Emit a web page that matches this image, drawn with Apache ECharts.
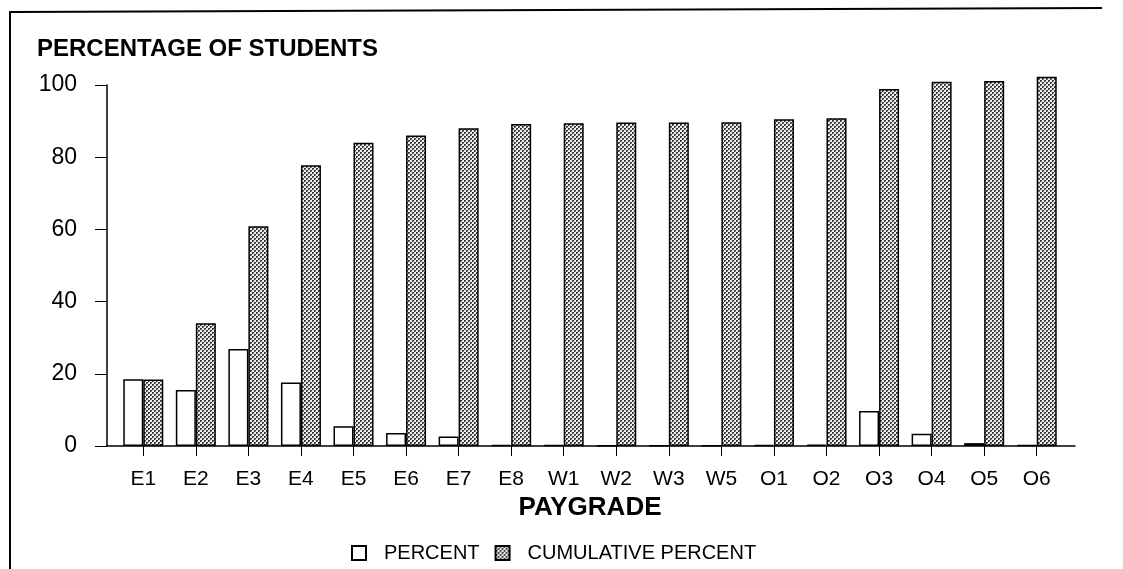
<!DOCTYPE html>
<html>
<head>
<meta charset="utf-8">
<script src="https://cdn.jsdelivr.net/npm/echarts@6/dist/echarts.min.js"></script>
<style>
  html, body { margin: 0; padding: 0; background: #fff; }
  #chart { width: 1123px; height: 569px; }
</style>
</head>
<body>
<div id="chart"></div>
<script>
// paygrade categories and the two series
var paygrades = ['E1', 'E2', 'E3', 'E4', 'E5', 'E6', 'E7', 'E8', 'W1', 'W2', 'W3', 'W5', 'O1', 'O2', 'O3', 'O4', 'O5', 'O6'];
var percent = [18.5, 15.5, 26.9, 17.6, 5.5, 3.6, 2.6, 0.3, 0.3, 0.2, 0.2, 0.2, 0.3, 0.4, 9.7, 3.4, 0.8, 0.3];
var cumulative = [18.4, 34.0, 60.9, 77.8, 84.0, 86.0, 88.0, 89.2, 89.4, 89.6, 89.6, 89.7, 90.5, 90.8, 98.9, 100.9, 101.1, 102.3];
var yTicks = [0, 20, 40, 60, 80, 100];

var FONT = 'Liberation Sans, Arial, sans-serif';

// dotted halftone fill like the scanned print
function makePattern() {
    var c = document.createElement('canvas');
    c.width = 4; c.height = 4;
    var ctx = c.getContext('2d');
    ctx.fillStyle = '#eeeeee';
    ctx.fillRect(0, 0, 4, 4);
    ctx.fillStyle = '#383838';
    ctx.fillRect(0, 0, 2, 1);
    ctx.fillRect(0, 1, 1, 1);
    ctx.fillRect(2, 2, 2, 1);
    ctx.fillRect(2, 3, 1, 1);
    ctx.fillStyle = '#949494';
    ctx.fillRect(1, 1, 1, 1);
    ctx.fillRect(3, 3, 1, 1);
    return c;
}

var myChart = echarts.init(document.getElementById('chart'), null, {renderer: 'canvas'});

var option = {
    backgroundColor: '#fff',
    animation: false,
    title: {
        text: 'PERCENTAGE OF STUDENTS',
        left: 32,
        top: 32,
        textStyle: {fontFamily: FONT, fontSize: 24, fontWeight: 'bold', color: '#000'}
    },
    legend: {
        left: 346,
        top: 538,
        icon: 'rect',
        itemWidth: 14,
        itemHeight: 14,
        itemGap: 15,
        data: ['PERCENT', 'CUMULATIVE PERCENT'],
        textStyle: {fontFamily: FONT, fontSize: 20, color: '#000', padding: [0, 0, 0, 13]}
    },
    grid: [
        {left: 117, right: 60, top: 85, bottom: 123},
        {left: 107, right: 48, top: 85, bottom: 123}
    ],
    xAxis: [
        {
            type: 'category',
            gridIndex: 0,
            data: paygrades,
            axisLine: {show: false},
            axisTick: {show: true, alignWithLabel: true, length: 10, lineStyle: {color: '#000', width: 1}},
            axisLabel: {margin: 23, fontFamily: FONT, fontSize: 21, color: '#000'},
            name: 'PAYGRADE',
            nameLocation: 'middle',
            nameGap: 46,
            nameTextStyle: {fontFamily: FONT, fontSize: 26, fontWeight: 'bold', color: '#000'}
        },
        {
            type: 'category',
            gridIndex: 1,
            data: paygrades,
            axisLine: {show: true, lineStyle: {color: '#000', width: 1.5}},
            axisTick: {show: false},
            axisLabel: {show: false}
        }
    ],
    yAxis: [
        {
            type: 'value',
            gridIndex: 0,
            min: 0, max: 100, interval: 20,
            show: false
        },
        {
            type: 'value',
            gridIndex: 1,
            min: 0, max: 100, interval: 20,
            axisLine: {show: true, lineStyle: {color: '#000', width: 1.5}},
            axisTick: {show: true, length: 12, lineStyle: {color: '#000', width: 1}},
            axisLabel: {
                margin: 30, fontFamily: FONT, fontSize: 23, color: '#000',
                formatter: function (v) { return yTicks.indexOf(v) >= 0 ? String(v) : ''; }
            },
            splitLine: {show: false}
        }
    ],
    graphic: [
        {
            type: 'polyline',
            shape: {points: [[1102, 8], [10, 12], [10, 570]]},
            style: {stroke: '#000', lineWidth: 2, fill: null},
            silent: true
        }
    ],
    series: [
        {
            name: 'PERCENT',
            type: 'bar',
            xAxisIndex: 0,
            yAxisIndex: 0,
            data: percent,
            barWidth: 20,
            barGap: '0%',
            clip: false,
            itemStyle: {color: '#fff', borderColor: '#000', borderWidth: 1.5}
        },
        {
            name: 'CUMULATIVE PERCENT',
            type: 'bar',
            xAxisIndex: 0,
            yAxisIndex: 0,
            data: cumulative,
            barWidth: 20,
            clip: false,
            itemStyle: {color: {image: makePattern(), repeat: 'repeat'}, borderColor: '#000', borderWidth: 1.5}
        }
    ]
};

myChart.setOption(option);
</script>
</body>
</html>
